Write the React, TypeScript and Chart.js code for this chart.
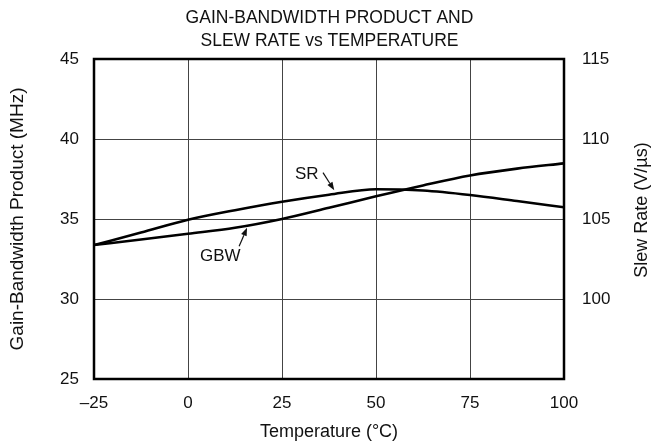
import React, { useEffect, useRef } from "react";
import { Chart, registerables } from "chart.js";

Chart.register(...registerables);

const temperatures = [-25, -12.5, 0, 12.5, 25, 37.5, 50, 62.5, 75, 87.5, 100];
const gbwMHz = [33.37, 33.72, 34.08, 34.45, 35.0, 35.7, 36.42, 37.1, 37.72, 38.15, 38.48];
const slewRate = [103.37, 104.15, 104.95, 105.55, 106.08, 106.52, 106.86, 106.78, 106.5, 106.12, 105.73];

const titleLines = ["GAIN-BANDWIDTH PRODUCT AND", "SLEW RATE vs TEMPERATURE"];
const xTitle = "Temperature (°C)";
const yLeftTitle = "Gain-Bandwidth Product (MHz)";
const yRightTitle = "Slew Rate (V/µs)";

// annotation labels (text position and arrow in data units of x / left y axis)
const labelSR = { text: "SR", x: 31.6, y: 37.8, fx: 35.9, fy: 37.9, tx: 38.9, ty: 36.8 };
const labelGBW = { text: "GBW", x: 8.6, y: 32.66, fx: 13.6, fy: 33.3, tx: 15.7, ty: 34.45 };

const FONT = "'Liberation Sans', Arial, Helvetica, sans-serif";

const overlayPlugin = {
  id: "overlay",
  afterDatasetsDraw(chart: any) {
    const { ctx, chartArea, scales } = chart;
    const x = scales.x;
    const y = scales.y;
    ctx.save();
    // frame
    ctx.strokeStyle = "#000";
    ctx.lineWidth = 2.5;
    ctx.strokeRect(chartArea.left, chartArea.top, chartArea.right - chartArea.left, chartArea.bottom - chartArea.top);

    // annotations
    ctx.fillStyle = "#111";
    ctx.font = `17px ${FONT}`;
    ctx.textAlign = "center";
    ctx.textBaseline = "middle";
    for (const l of [labelSR, labelGBW]) {
      ctx.fillText(l.text, x.getPixelForValue(l.x), y.getPixelForValue(l.y));
      const x1 = x.getPixelForValue(l.fx);
      const y1 = y.getPixelForValue(l.fy);
      const x2 = x.getPixelForValue(l.tx);
      const y2 = y.getPixelForValue(l.ty);
      const ang = Math.atan2(y2 - y1, x2 - x1);
      const head = 8;
      const hw = 3;
      const bx = x2 - head * Math.cos(ang);
      const by = y2 - head * Math.sin(ang);
      ctx.strokeStyle = "#111";
      ctx.lineWidth = 1.2;
      ctx.beginPath();
      ctx.moveTo(x1, y1);
      ctx.lineTo(bx, by);
      ctx.stroke();
      ctx.beginPath();
      ctx.moveTo(x2, y2);
      ctx.lineTo(bx + hw * Math.sin(ang), by - hw * Math.cos(ang));
      ctx.lineTo(bx - hw * Math.sin(ang), by + hw * Math.cos(ang));
      ctx.closePath();
      ctx.fill();
    }

    // right axis title (reads bottom to top)
    ctx.save();
    ctx.translate(642, (chartArea.top + chartArea.bottom) / 2 - 9);
    ctx.rotate(-Math.PI / 2);
    ctx.font = `18px ${FONT}`;
    ctx.fillText(yRightTitle, 0, 0);
    ctx.restore();
    ctx.restore();
  },
};

export default function App() {
  const ref = useRef<HTMLCanvasElement>(null);
  useEffect(() => {
    if (!ref.current) return;
    const chart = new Chart(ref.current, {
      type: "line",
      data: {
        labels: temperatures,
        datasets: [
          {
            label: "GBW",
            data: temperatures.map((t, i) => ({ x: t, y: gbwMHz[i] })),
            yAxisID: "y",
            borderColor: "#000",
            borderWidth: 2.6,
            pointRadius: 0,
            cubicInterpolationMode: "monotone",
            fill: false,
          },
          {
            label: "SR",
            data: temperatures.map((t, i) => ({ x: t, y: slewRate[i] })),
            yAxisID: "y2",
            borderColor: "#000",
            borderWidth: 2.6,
            pointRadius: 0,
            cubicInterpolationMode: "monotone",
            fill: false,
          },
        ],
      },
      options: {
        responsive: false,
        animation: false,
        devicePixelRatio: 1,
        layout: { padding: { left: 6, right: 0, top: 0, bottom: 0 } },
        plugins: {
          legend: { display: false },
          tooltip: { enabled: false },
          title: {
            display: true,
            text: titleLines,
            color: "#111",
            font: { family: FONT, size: 17.5, weight: "normal", lineHeight: 1.35 },
            padding: { top: 6, bottom: 5.75 },
          },
        },
        scales: {
          x: {
            type: "linear",
            min: -25,
            max: 100,
            border: { display: false },
            grid: { color: "#444", lineWidth: 1, drawTicks: false },
            ticks: {
              stepSize: 25,
              padding: 14,
              color: "#111",
              font: { family: FONT, size: 17 },
              maxRotation: 0,
              callback: (v: any) => (v < 0 ? "\u2013" + Math.abs(v) : String(v)),
            },
            title: {
              display: true,
              text: xTitle,
              color: "#111",
              font: { family: FONT, size: 18 },
              padding: { top: 0, bottom: 4 },
            },
            afterFit: (s: any) => {
              s.height = 68;
            },
          },
          y: {
            type: "linear",
            position: "left",
            min: 25,
            max: 45,
            border: { display: false },
            grid: { color: "#444", lineWidth: 1, drawTicks: false },
            ticks: {
              stepSize: 5,
              padding: 15,
              color: "#111",
              font: { family: FONT, size: 17 },
            },
            title: {
              display: true,
              text: yLeftTitle,
              color: "#111",
              font: { family: FONT, size: 19 },
              padding: { top: 0, bottom: 0 },
            },
            afterFit: (s: any) => {
              s.width = 88;
            },
          },
          y2: {
            type: "linear",
            position: "right",
            min: 95,
            max: 115,
            border: { display: false },
            grid: { display: false, drawTicks: false },
            ticks: {
              stepSize: 5,
              padding: 18,
              color: "#111",
              font: { family: FONT, size: 17 },
              callback: (v: any) => (v === 95 ? "" : String(v)),
            },
            afterFit: (s: any) => {
              s.width = 89;
            },
          },
        },
      },
      plugins: [overlayPlugin],
    });
    return () => chart.destroy();
  }, []);
  return (
    <div style={{ position: "fixed", left: 0, top: 0, width: 653, height: 447, background: "#fff" }}>
      <canvas ref={ref} width={653} height={447} />
    </div>
  );
}
